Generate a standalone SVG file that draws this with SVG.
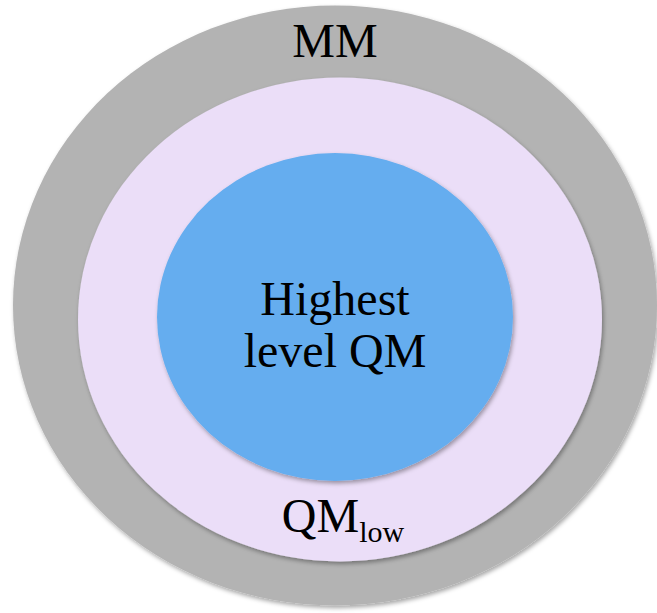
<svg xmlns="http://www.w3.org/2000/svg" width="657" height="613" viewBox="0 0 657 613">
  <defs>
    <filter id="sh" x="-10%" y="-10%" width="120%" height="120%">
      <feDropShadow dx="1.5" dy="2.5" stdDeviation="2" flood-color="#000" flood-opacity="0.35"/>
    </filter>
    <style>
      .lbl { font-family: "Liberation Serif", "Times New Roman", serif; fill: #000; text-anchor: middle; }
    </style>
  </defs>
  <rect width="657" height="613" fill="#fff"/>
  <g id="outer">
    <ellipse cx="335" cy="305.5" rx="322" ry="300" fill="#b3b3b3" filter="url(#sh)"/>
    <text class="lbl" x="335" y="57" font-size="48">MM</text>
  </g>
  <g id="middle">
    <ellipse cx="340" cy="319.5" rx="262" ry="242" fill="#ebdef8" filter="url(#sh)"/>
    <text class="lbl" x="343" y="532" font-size="48">QM<tspan font-size="30" dy="10">low</tspan></text>
  </g>
  <g id="inner">
    <ellipse cx="335" cy="317" rx="178" ry="164" fill="#65adef" filter="url(#sh)"/>
    <text class="lbl" x="335" y="315" font-size="48">Highest</text>
    <text class="lbl" x="335" y="367" font-size="48">level QM</text>
  </g>
  <g id="connectors"/>
</svg>
